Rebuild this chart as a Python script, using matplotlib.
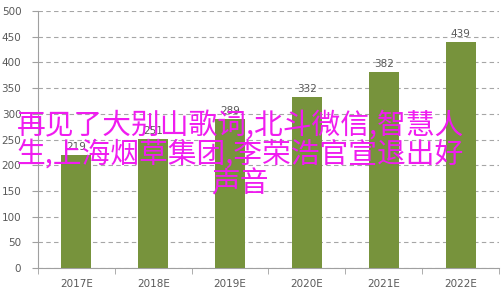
import matplotlib
matplotlib.use("Agg")
import matplotlib.pyplot as plt

# data
years = ["2017E", "2018E", "2019E", "2020E", "2021E", "2022E"]
values = [219, 251, 289, 332, 382, 439]
yticks = [0, 50, 100, 150, 200, 250, 300, 350, 400, 450, 500]
overlay = "再见了大别山歌词,北斗微信,智慧人\n生,上海烟草集团,李荣浩官宣退出好\n声音"

bar_color = "#77933C"
text_gray = "#595959"

fig = plt.figure(figsize=(5.04, 2.98), dpi=100)
ax = fig.add_axes([38 / 504, 30 / 298, 461 / 504, 257 / 298])

x = list(range(len(years)))
ax.bar(x, values, width=0.39, color=bar_color, zorder=3)
for xi, v in zip(x, values):
    ax.text(xi, v + 6, str(v), ha="center", va="bottom", fontsize=7.5, color=text_gray, zorder=4)

ax.set_xlim(-0.5, len(years) - 0.5)
ax.set_ylim(0, 500)
ax.set_yticks(yticks)
ax.set_yticklabels([str(t) for t in yticks], fontsize=7.5, color=text_gray)
ax.set_xticks(x)
ax.set_xticklabels(years, fontsize=7.5, color=text_gray)
ax.tick_params(axis="x", length=0, pad=8)
ax.tick_params(axis="y", length=4, color="#A0A0A0", pad=8)
# small ticks at category boundaries
ax.set_xticks([i - 0.5 for i in range(len(years) + 1)], minor=True)
ax.tick_params(axis="x", which="minor", length=4, color="#A0A0A0")

ax.grid(axis="y", linestyle=(0, (4, 3)), color="#A6A6A6", linewidth=0.8, zorder=0)
for s in ["top", "right"]:
    ax.spines[s].set_visible(False)
ax.spines["left"].set_color("#A0A0A0")
ax.spines["bottom"].set_color("#A0A0A0")

fig.text(240 / 504, 1 - 155 / 298, overlay, ha="center", va="center",
         fontsize=20.7, color="#F01CF0", linespacing=0.98, weight="medium",
         family=["Noto Sans CJK SC", "DejaVu Sans"], zorder=10)

fig.savefig("out.png", dpi=100)
